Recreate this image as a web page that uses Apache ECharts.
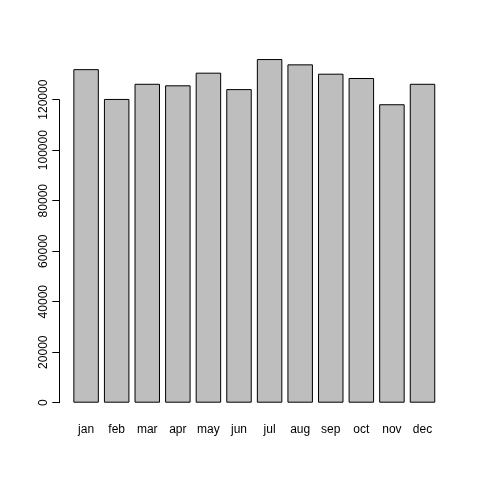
<!DOCTYPE html>
<html>
<head>
<meta charset="utf-8">
<script src="https://cdn.jsdelivr.net/npm/echarts@6/dist/echarts.min.js"></script>
<style>html,body{margin:0;padding:0;background:#fff}#c{width:480px;height:480px}</style>
</head>
<body>
<div id="c"></div>
<script>
const months = ['jan','feb','mar','apr','may','jun','jul','aug','sep','oct','nov','dec'];
const values = [132100, 120300, 126300, 125700, 130700, 124200, 136100, 134000, 130300, 128600, 118200, 126300];
const yTicks = [0, 20000, 40000, 60000, 80000, 100000, 120000];

const chart = echarts.init(document.getElementById('c'), null, {renderer: 'canvas'});
const font = 'Liberation Sans, Arial, Helvetica, sans-serif';
chart.setOption({
  animation: false,
  backgroundColor: '#ffffff',
  grid: [
    {left: 70.8, right: 42.2, top: 49.2, bottom: 77.3},
    {left: 59.3, right: 400, top: 99.7, bottom: 77.3}
  ],
  xAxis: [
    {type: 'category', gridIndex: 0, data: months, boundaryGap: true,
     axisLine: {show: false}, axisTick: {show: false},
     axisLabel: {color: '#000', fontSize: 12, fontFamily: font, margin: 21}},
    {type: 'value', gridIndex: 1, show: false}
  ],
  yAxis: [
    {type: 'value', gridIndex: 0, min: 0, max: 140000, show: false, splitLine: {show: false}},
    {type: 'value', gridIndex: 1, min: yTicks[0], max: yTicks[yTicks.length - 1], interval: 20000,
     axisLine: {show: true, lineStyle: {color: '#000', width: 1}},
     axisTick: {show: true, length: 7, lineStyle: {color: '#000'}},
     splitLine: {show: false},
     axisLabel: {color: '#000', fontSize: 12, fontFamily: font, rotate: 90, margin: 10,
                 formatter: v => String(v)}}
  ],
  series: [{
    type: 'bar',
    xAxisIndex: 0, yAxisIndex: 0,
    data: values,
    barWidth: '83.3%',
    itemStyle: {color: '#bebebe', borderColor: '#000', borderWidth: 1}
  }]
});
</script>
</body>
</html>
